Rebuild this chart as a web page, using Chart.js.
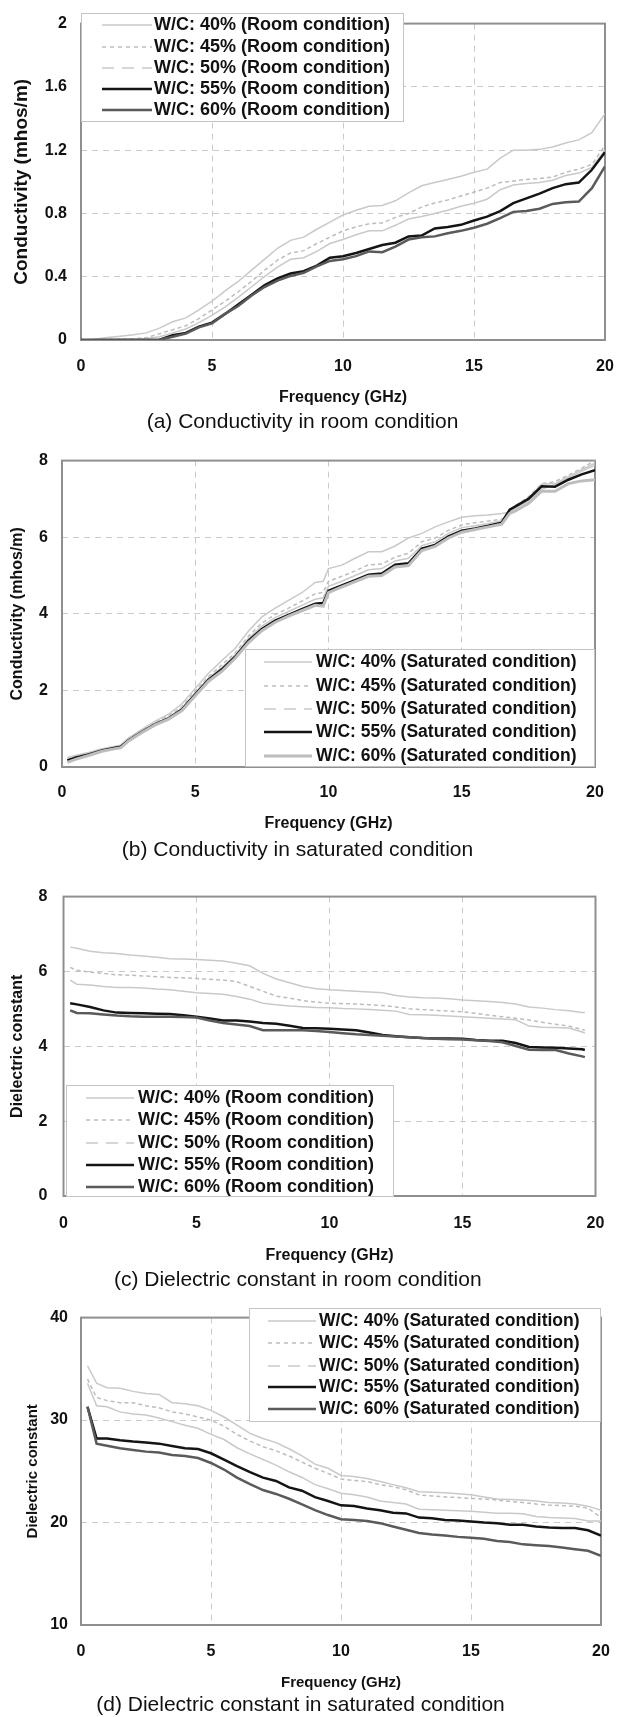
<!DOCTYPE html>
<html>
<head>
<meta charset="utf-8">
<script src="https://cdn.jsdelivr.net/npm/chart.js@4/dist/chart.umd.min.js"></script>
<style>
  html, body { margin: 0; padding: 0; background: #fff; overflow: hidden; width: 628px; height: 1717px; }
  canvas { position: absolute; left: 0; }
</style>
</head>
<body>
<canvas id="chartA"></canvas>
<canvas id="chartB"></canvas>
<canvas id="chartC"></canvas>
<canvas id="chartD"></canvas>
<script>
const mixes = ['W/C: 40%', 'W/C: 45%', 'W/C: 50%', 'W/C: 55%', 'W/C: 60%'];

// (a) conductivity, room condition
const freqA = [0,0.5,1,1.5,2,2.5,3,3.5,4,4.5,5,5.5,6,6.5,7,7.5,8,8.5,9,9.5,10,10.5,11,11.5,12,12.5,13,13.5,14,14.5,15,15.5,16,16.5,17,17.5,18,18.5,19,19.5,20];
const condRoom40 = [0,0.004,0.016,0.024,0.033,0.045,0.075,0.115,0.14,0.19,0.245,0.31,0.37,0.44,0.51,0.58,0.63,0.65,0.7,0.745,0.79,0.82,0.845,0.85,0.88,0.93,0.975,0.995,1.015,1.035,1.06,1.08,1.15,1.2,1.2,1.205,1.22,1.245,1.265,1.31,1.43];
const condRoom45 = [0,0.002,0.005,0.005,0.008,0.015,0.04,0.065,0.09,0.135,0.19,0.245,0.305,0.37,0.44,0.505,0.55,0.565,0.61,0.65,0.69,0.715,0.735,0.74,0.775,0.8,0.84,0.866,0.885,0.91,0.935,0.96,0.995,1.005,1.015,1.02,1.03,1.06,1.08,1.11,1.23];
const condRoom50 = [0,0,0.003,0.004,0.005,0.01,0.02,0.045,0.07,0.11,0.155,0.21,0.27,0.335,0.4,0.46,0.51,0.52,0.56,0.61,0.635,0.665,0.69,0.69,0.725,0.765,0.78,0.8,0.82,0.845,0.865,0.89,0.95,0.98,0.99,0.995,1.01,1.04,1.055,1.09,1.2];
const condRoom55 = [0,0,0,0,0,0,0.002,0.03,0.045,0.085,0.11,0.165,0.225,0.285,0.345,0.39,0.42,0.435,0.47,0.52,0.53,0.55,0.575,0.6,0.615,0.655,0.66,0.705,0.715,0.728,0.755,0.78,0.815,0.865,0.895,0.925,0.96,0.985,0.995,1.076,1.187];
const condRoom60 = [0,0,0,0,0,0,0.002,0.02,0.04,0.08,0.105,0.165,0.215,0.28,0.335,0.375,0.405,0.425,0.465,0.5,0.51,0.53,0.56,0.555,0.59,0.635,0.65,0.655,0.675,0.69,0.71,0.735,0.77,0.81,0.815,0.83,0.86,0.87,0.875,0.96,1.097];

// (b) conductivity, saturated condition
const freqB = [0.2,0.5,1,1.5,2,2.2,2.5,3,3.5,4,4.5,5,5.5,6,6.5,7,7.5,8,8.5,9,9.5,9.8,10,10.5,11,11.5,12,12.5,13,13.5,14,14.5,15,15.5,16,16.5,16.8,17,17.5,18,18.5,19,19.5,20];
const condSat40 = [0.25,0.3,0.38,0.48,0.54,0.57,0.76,0.98,1.2,1.38,1.65,2.05,2.45,2.78,3.1,3.55,3.92,4.15,4.35,4.55,4.82,4.85,5.18,5.27,5.45,5.62,5.62,5.77,5.98,6.1,6.27,6.4,6.52,6.56,6.58,6.62,6.65,6.75,6.95,7.25,7.38,7.55,7.72,7.88];
const condSat45 = [0.2,0.27,0.36,0.46,0.52,0.55,0.73,0.95,1.16,1.33,1.58,1.98,2.36,2.67,2.98,3.42,3.76,3.98,4.15,4.33,4.52,4.56,4.85,4.98,5.12,5.28,5.3,5.48,5.58,5.88,5.98,6.18,6.32,6.38,6.42,6.47,6.7,6.82,7.05,7.4,7.45,7.62,7.8,8.0];
const condSat50 = [0.19,0.25,0.35,0.45,0.51,0.54,0.71,0.93,1.14,1.3,1.54,1.94,2.32,2.6,2.93,3.36,3.68,3.9,4.06,4.22,4.38,4.42,4.72,4.85,5.0,5.15,5.18,5.38,5.45,5.78,5.88,6.1,6.25,6.3,6.36,6.43,6.72,6.8,7.02,7.38,7.4,7.58,7.76,7.93];
const condSat55 = [0.17,0.24,0.33,0.43,0.5,0.53,0.7,0.92,1.12,1.27,1.5,1.9,2.28,2.55,2.88,3.3,3.6,3.82,3.97,4.12,4.26,4.28,4.6,4.74,4.88,5.02,5.05,5.28,5.32,5.7,5.8,6.02,6.17,6.23,6.3,6.38,6.72,6.8,7.0,7.33,7.32,7.5,7.64,7.75];
const condSat60 = [0.12,0.2,0.3,0.41,0.48,0.5,0.68,0.9,1.1,1.25,1.47,1.86,2.24,2.5,2.84,3.25,3.56,3.78,3.94,4.08,4.22,4.2,4.55,4.7,4.84,4.98,5.0,5.22,5.26,5.65,5.76,5.98,6.13,6.2,6.27,6.34,6.62,6.68,6.88,7.2,7.2,7.4,7.47,7.5];

// (c) dielectric constant, room condition
const freqC = [0.25,0.5,1,1.5,2,2.5,3,3.5,4,4.5,5,5.5,6,6.5,7,7.5,8,8.5,9,9.5,10,10.5,11,11.5,12,12.5,13,13.5,14,14.5,15,15.5,16,16.5,17,17.5,18,18.5,19,19.5,19.6];
const dielRoom40 = [6.65,6.62,6.54,6.5,6.48,6.44,6.41,6.38,6.34,6.33,6.32,6.3,6.28,6.22,6.15,5.95,5.8,5.7,5.6,5.54,5.51,5.49,5.47,5.45,5.43,5.36,5.32,5.3,5.29,5.27,5.24,5.22,5.2,5.17,5.13,5.05,5.02,4.98,4.95,4.9,4.9];
const dielRoom45 = [6.11,6.03,5.98,5.95,5.91,5.9,5.88,5.86,5.84,5.83,5.81,5.79,5.77,5.73,5.6,5.47,5.34,5.29,5.22,5.18,5.15,5.14,5.13,5.11,5.09,5.05,5.0,4.98,4.96,4.94,4.92,4.88,4.83,4.79,4.75,4.7,4.64,4.59,4.54,4.45,4.43];
const dielRoom50 = [5.77,5.66,5.64,5.6,5.57,5.57,5.56,5.53,5.51,5.47,5.43,5.41,5.39,5.33,5.26,5.15,5.11,5.08,5.06,5.04,5.03,5.01,5.0,4.98,4.96,4.94,4.85,4.84,4.83,4.81,4.79,4.77,4.75,4.73,4.71,4.54,4.51,4.5,4.49,4.38,4.35];
const dielRoom55 = [5.15,5.12,5.05,4.96,4.9,4.89,4.88,4.87,4.86,4.83,4.79,4.74,4.69,4.69,4.66,4.62,4.6,4.55,4.49,4.48,4.47,4.45,4.43,4.37,4.3,4.27,4.24,4.22,4.21,4.21,4.2,4.17,4.15,4.15,4.09,3.98,3.97,3.96,3.94,3.92,3.9];
const dielRoom60 = [4.96,4.89,4.88,4.85,4.82,4.8,4.79,4.79,4.79,4.78,4.77,4.69,4.62,4.58,4.54,4.43,4.43,4.43,4.43,4.41,4.38,4.35,4.32,4.3,4.28,4.26,4.24,4.22,4.2,4.19,4.18,4.16,4.14,4.11,4.01,3.91,3.9,3.9,3.81,3.73,3.71];

// (d) dielectric constant, saturated condition
const freqD = [0.25,0.6,1,1.5,2,2.5,3,3.5,4,4.5,5,5.5,6,6.5,7,7.5,8,8.5,9,9.5,10,10.5,11,11.5,12,12.5,13,13.5,14,14.5,15,15.5,16,16.5,17,17.5,18,18.5,19,19.5,20];
const dielSat40 = [35.3,33.6,33.15,33.1,32.8,32.6,32.5,31.7,31.6,31.4,30.95,30.3,29.5,28.7,28.2,27.8,27.2,26.5,25.7,25.3,24.6,24.5,24.3,24.0,23.7,23.4,23.0,22.95,22.9,22.8,22.7,22.5,22.3,22.25,22.2,22.1,21.95,21.9,21.8,21.6,21.2];
const dielSat45 = [34.0,32.2,31.9,31.7,31.7,31.4,31.2,30.8,30.6,30.3,30.0,29.4,28.6,27.95,27.4,27.0,26.5,25.9,25.3,24.8,24.25,24.1,24.0,23.7,23.5,23.2,22.7,22.6,22.5,22.45,22.35,22.3,22.2,22.05,21.95,21.8,21.7,21.65,21.6,21.4,20.5];
const dielSat50 = [33.6,31.4,31.3,30.8,30.6,30.5,30.2,29.85,29.5,29.2,28.6,28.1,27.3,26.7,26.15,25.6,24.95,24.4,23.7,23.3,22.85,22.7,22.5,22.1,21.95,21.8,21.3,21.25,21.2,21.15,21.1,21.0,20.9,20.9,20.85,20.6,20.5,20.45,20.4,20.15,20.15];
const dielSat55 = [31.3,28.2,28.2,28.03,27.9,27.8,27.7,27.46,27.24,27.17,26.76,26.13,25.5,24.92,24.38,24.06,23.43,23.11,22.48,22.1,21.68,21.62,21.37,21.2,20.95,20.89,20.48,20.41,20.25,20.19,20.1,20.0,19.94,19.78,19.78,19.62,19.52,19.46,19.46,19.24,18.73];
const dielSat60 = [31.3,27.7,27.5,27.24,27.08,26.92,26.83,26.6,26.5,26.29,25.81,25.17,24.38,23.75,23.17,22.79,22.32,21.78,21.21,20.73,20.32,20.25,20.16,19.94,19.62,19.3,18.98,18.83,18.73,18.6,18.51,18.41,18.19,18.1,17.87,17.78,17.71,17.56,17.4,17.24,16.76];

const FONT = '"Liberation Sans", Arial, Helvetica, sans-serif';
Chart.defaults.font.family = FONT;
Chart.defaults.color = '#111';

const baseStyles = [
  { color: '#c9c9c9', width: 1.5, dash: [], legendDash: [] },
  { color: '#bdbdbd', width: 1.5, dash: [4, 3], legendDash: [4, 4] },
  { color: '#c9c9c9', width: 1.5, dash: [], legendDash: [12, 8] },
  { color: '#141414', width: 2.5, dash: [], legendDash: [] },
  { color: '#5a5a5a', width: 2.5, dash: [], legendDash: [] }
];

// grey frame round the plot area
const plotFrame = {
  id: 'plotFrame',
  beforeDatasetsDraw(chart) {
    const { ctx, chartArea: a } = chart;
    ctx.save();
    ctx.strokeStyle = '#8f8f8f';
    ctx.lineWidth = 2;
    ctx.strokeRect(a.left, a.top, a.right - a.left, a.bottom - a.top);
    ctx.restore();
  }
};

// legend box drawn inside the plot, like the original figure
const insideLegend = {
  id: 'insideLegend',
  afterDatasetsDraw(chart, args, opts) {
    const ctx = chart.ctx;
    const [x1, y1, x2, y2] = opts.box;
    ctx.save();
    ctx.fillStyle = '#fff';
    ctx.fillRect(x1, y1, x2 - x1, y2 - y1);
    ctx.strokeStyle = '#c4c4c4';
    ctx.lineWidth = 1;
    ctx.strokeRect(x1 + 0.5, y1 + 0.5, x2 - x1 - 1, y2 - y1 - 1);
    chart.data.datasets.forEach((ds, i) => {
      const y = opts.rows[i];
      ctx.beginPath();
      ctx.setLineDash(ds.legendDash);
      ctx.strokeStyle = ds.borderColor;
      ctx.lineWidth = ds.borderWidth;
      ctx.moveTo(opts.line[0], y);
      ctx.lineTo(opts.line[1], y);
      ctx.stroke();
      ctx.setLineDash([]);
      ctx.fillStyle = '#111';
      ctx.font = 'bold ' + opts.fontSize + 'px ' + FONT;
      ctx.textBaseline = 'middle';
      ctx.textAlign = 'left';
      ctx.fillText(ds.label, opts.textX, y);
    });
    ctx.restore();
  }
};

function makePanel(id, p) {
  const canvas = document.getElementById(id);
  canvas.style.top = p.top + 'px';
  canvas.width = p.width;
  canvas.height = p.height;
  const styles = baseStyles.map((s, i) => (p.styleOverride && p.styleOverride[i]) ? Object.assign({}, s, p.styleOverride[i]) : s);
  const grid = { color: '#cbcbcb', lineWidth: 1, drawTicks: false };
  const border = { display: false, dash: [6, 5] };
  return new Chart(canvas, {
    type: 'line',
    data: {
      datasets: p.series.map((vals, i) => ({
        label: mixes[i] + p.suffix,
        data: p.freq.map((f, k) => ({ x: f, y: vals[k] })),
        borderColor: styles[i].color,
        borderWidth: styles[i].width,
        borderDash: styles[i].dash,
        legendDash: styles[i].legendDash,
        pointRadius: 0,
        tension: 0,
        fill: false,
        order: 5 - i
      }))
    },
    options: {
      responsive: false,
      animation: false,
      devicePixelRatio: 1,
      layout: { padding: { top: 13, right: p.width - p.right, bottom: 0, left: 0 } },
      plugins: {
        legend: { display: false },
        tooltip: { enabled: false },
        title: {
          display: true, position: 'bottom', text: p.caption, color: '#111',
          font: { size: 21, weight: 'normal' }, padding: { top: 0, bottom: p.captionPad }
        },
        insideLegend: p.legend
      },
      scales: {
        x: {
          type: 'linear', min: 0, max: 20,
          ticks: { stepSize: 5, padding: p.xTickPad, font: { size: 16, weight: 'bold' }, color: '#111' },
          grid, border,
          title: { display: true, text: 'Frequency (GHz)', font: { size: p.xTitleSize, weight: 'bold' }, color: '#111', padding: { top: 0, bottom: p.xTitlePad } },
          afterFit: s => { s.height = p.xHeight; }
        },
        y: {
          min: p.yMin, max: p.yMax,
          ticks: { stepSize: p.yStep, padding: p.yTickPad, font: { size: 16, weight: 'bold' }, color: '#111', callback: v => String(+v.toFixed(2)) },
          grid, border,
          title: { display: true, text: p.yTitle, font: { size: p.yTitleSize, weight: 'bold' }, color: '#111', padding: { top: p.yTitlePad, bottom: 0 } },
          afterFit: s => { s.width = p.left; }
        }
      }
    },
    plugins: [plotFrame, insideLegend]
  });
}

makePanel('chartA', {
  top: 0, width: 680, height: 440, left: 81, right: 605,
  freq: freqA, series: [condRoom40, condRoom45, condRoom50, condRoom55, condRoom60],
  suffix: ' (Room condition)', caption: '(a) Conductivity in room condition', captionPad: 5.4,
  yMin: 0, yMax: 2, yStep: 0.4, yTitle: 'Conductivity (mhos/m)', yTitleSize: 19, yTitlePad: 10.6, yTickPad: 14,
  xHeight: 69.4, xTickPad: 17.4, xTitleSize: 16, xTitlePad: 1.8,
  legend: { box: [81, 13, 404, 122], line: [102, 152], textX: 154, rows: [25, 47, 68, 89, 110], fontSize: 18 }
});

makePanel('chartB', {
  top: 437, width: 662, height: 430, left: 62, right: 595,
  freq: freqB, series: [condSat40, condSat45, condSat50, condSat55, condSat60],
  styleOverride: { 4: { color: '#bdbdbd', width: 3 } },
  suffix: ' (Saturated condition)', caption: '(b) Conductivity in saturated condition', captionPad: 4.4,
  yMin: 0, yMax: 8, yStep: 2, yTitle: 'Conductivity (mhos/m)', yTitleSize: 16, yTitlePad: 8.4, yTickPad: 14,
  xHeight: 70.4, xTickPad: 16.4, xTitleSize: 16, xTitlePad: 3.8,
  legend: { box: [245, 212, 595, 330], line: [264, 312], textX: 316, rows: [225, 249, 272, 295, 319], fontSize: 17.5 }
});

makePanel('chartC', {
  top: 871, width: 640, height: 428, left: 63.5, right: 595.5,
  freq: freqC, series: [dielRoom40, dielRoom45, dielRoom50, dielRoom55, dielRoom60],
  suffix: ' (Room condition)', caption: '(c) Dielectric constant in room condition', captionPad: 6.4,
  yMin: 0, yMax: 8, yStep: 2, yTitle: 'Dielectric constant', yTitleSize: 16, yTitlePad: 8.4, yTickPad: 16,
  xHeight: 71.4, xTickPad: 18.4, xTitleSize: 16, xTitlePad: 1.8,
  legend: { box: [66, 214, 394, 326], line: [86, 134], textX: 138, rows: [227, 249, 272, 294, 316], fontSize: 18 }
});

makePanel('chartD', {
  top: 1295, width: 676, height: 425, left: 81, right: 601,
  freq: freqD, series: [dielSat40, dielSat45, dielSat50, dielSat55, dielSat60],
  suffix: ' (Saturated condition)', caption: '(d) Dielectric constant in saturated condition', captionPad: 2.4,
  yMin: 10, yMax: 40, yStep: 10, yTitle: 'Dielectric constant', yTitleSize: 15, yTitlePad: 24, yTickPad: 13,
  xHeight: 67.4, xTickPad: 17.4, xTitleSize: 15, xTitlePad: 0.4,
  legend: { box: [249, 13, 601, 127], line: [268, 316], textX: 319, rows: [26, 48, 71, 92, 114], fontSize: 17.5 }
});
</script>
</body>
</html>
